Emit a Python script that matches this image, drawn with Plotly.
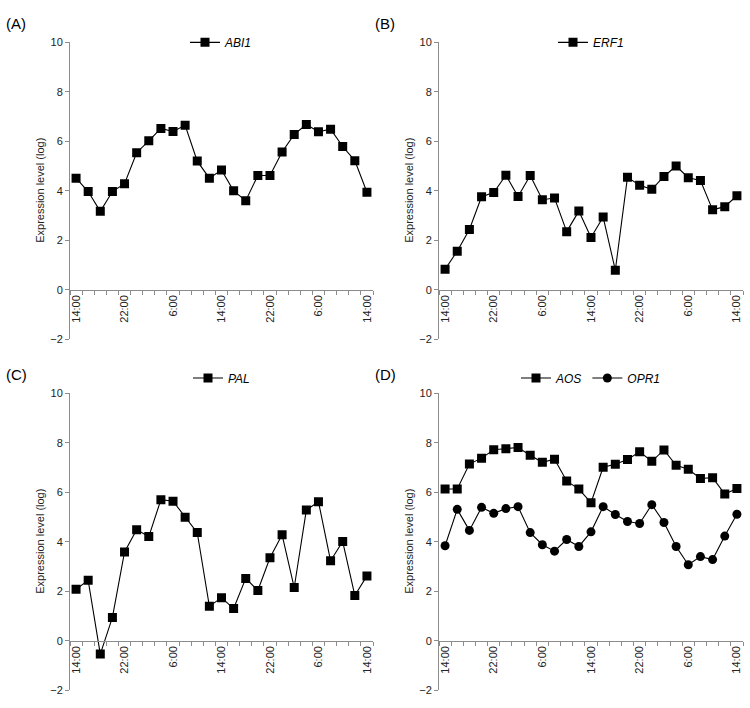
import plotly.graph_objects as go

# 25 samples, every 2 h over 48 h starting at 14:00
time_idx = list(range(25))
tick_pos = [0, 4, 8, 12, 16, 20, 24]
tick_text = ["14:00", "22:00", "6:00", "14:00", "22:00", "6:00", "14:00"]

abi1 = [4.51, 3.97, 3.17, 3.97, 4.29, 5.54, 6.02, 6.52, 6.40, 6.65, 5.20, 4.51, 4.84,
        4.00, 3.60, 4.62, 4.62, 5.57, 6.28, 6.68, 6.39, 6.49, 5.79, 5.22, 3.94]
erf1 = [0.83, 1.56, 2.44, 3.76, 3.93, 4.63, 3.77, 4.62, 3.64, 3.71, 2.35, 3.18, 2.11,
        2.94, 0.79, 4.55, 4.22, 4.06, 4.58, 5.00, 4.53, 4.42, 3.23, 3.36, 3.80]
pal = [2.08, 2.44, -0.54, 0.94, 3.59, 4.49, 4.21, 5.70, 5.64, 4.99, 4.37, 1.39, 1.74,
       1.30, 2.52, 2.03, 3.35, 4.28, 2.15, 5.28, 5.62, 3.23, 4.01, 1.83, 2.62]
aos = [6.13, 6.13, 7.14, 7.38, 7.72, 7.76, 7.81, 7.50, 7.21, 7.34, 6.46, 6.13, 5.58,
       7.01, 7.13, 7.32, 7.64, 7.25, 7.71, 7.09, 6.93, 6.56, 6.59, 5.93, 6.15]
opr1 = [3.84, 5.31, 4.46, 5.39, 5.15, 5.34, 5.42, 4.37, 3.88, 3.62, 4.09, 3.81, 4.40,
        5.42, 5.10, 4.82, 4.74, 5.50, 4.78, 3.81, 3.07, 3.40, 3.28, 4.23, 5.11]

W, H = 750, 708
FONT = "Arial, Liberation Sans, sans-serif"
AXIS_GRAY = "#8c8c8c"

# panel boxes in pixels: (left, right, top, bottom)
panels = {
    "A": (70, 373, 37, 339),
    "B": (439, 743, 37, 339),
    "C": (70, 373, 394, 696),
    "D": (439, 743, 394, 696),
}

series = {
    "A": [("ABI1", abi1, "square")],
    "B": [("ERF1", erf1, "square")],
    "C": [("PAL", pal, "square")],
    "D": [("AOS", aos, "square"), ("OPR1", opr1, "circle")],
}

fig = go.Figure()
annotations = []
layout = {}

for i, key in enumerate(["A", "B", "C", "D"]):
    n = i + 1
    sfx = "" if n == 1 else str(n)
    left, right, top, bottom = panels[key]
    xd = [left / W, right / W]
    yd = [1 - bottom / H, 1 - top / H]
    zero_pos = yd[0] + (yd[1] - yd[0]) * 2 / 12  # x axis crosses at y = 0
    leg = "legend" if n == 1 else f"legend{n}"

    for name, vals, sym in series[key]:
        fig.add_trace(go.Scatter(
            x=time_idx, y=vals, mode="lines+markers", name=name,
            line=dict(color="black", width=1.1),
            marker=dict(symbol=sym, size=9, color="black"),
            xaxis=f"x{sfx}", yaxis=f"y{sfx}", legend=leg,
        ))

    layout[f"xaxis{sfx}"] = dict(
        domain=xd, anchor="free", position=zero_pos, range=[-0.5, 24.5],
        tickmode="array", tickvals=tick_pos, ticktext=tick_text, tickangle=-90,
        ticks="", showline=True, linecolor=AXIS_GRAY, linewidth=1,
        showgrid=False, zeroline=False,
        minor=dict(tickmode="array", tickvals=[k + 0.5 for k in range(-1, 25)],
                   ticks="outside", ticklen=4, tickcolor=AXIS_GRAY, showgrid=False),
        tickfont=dict(size=11, color="#222"),
    )
    layout[f"yaxis{sfx}"] = dict(
        domain=yd, anchor=f"x{sfx}", range=[-2, 10], dtick=2,
        showline=True, linecolor=AXIS_GRAY, linewidth=1,
        ticks="outside", ticklen=4, tickcolor=AXIS_GRAY,
        showgrid=False, zeroline=False, tickfont=dict(size=11, color="#222"),
    )
    layout[leg] = dict(
        orientation="h", x=(xd[0] + xd[1]) / 2, xanchor="center",
        y=yd[1] + (0.0 if key in "AB" else 0.022), yanchor="middle",
        font=dict(size=12, family=FONT, style="italic", color="black"),
        bgcolor="rgba(0,0,0,0)", itemwidth=30,
    )
    annotations.append(dict(
        text="Expression level (log)", textangle=-90, showarrow=False,
        xref="paper", yref="paper", x=(left - 30) / W, y=(yd[0] + yd[1]) / 2,
        xanchor="center", yanchor="middle", font=dict(size=11, color="#222"),
    ))
    annotations.append(dict(
        text=f"({key})", showarrow=False, xref="paper", yref="paper",
        x=(left - 66) / W, y=1 - (top - 19) / H, xanchor="left", yanchor="middle",
        font=dict(size=15, color="black"),
    ))

fig.update_layout(
    width=W, height=H, margin=dict(l=0, r=0, t=0, b=0),
    paper_bgcolor="white", plot_bgcolor="white", showlegend=True,
    font=dict(family=FONT), annotations=annotations,
    **layout,
)

fig.write_html("out.html", config={"displayModeBar": False},
               post_script="document.body.style.margin = '0';")
